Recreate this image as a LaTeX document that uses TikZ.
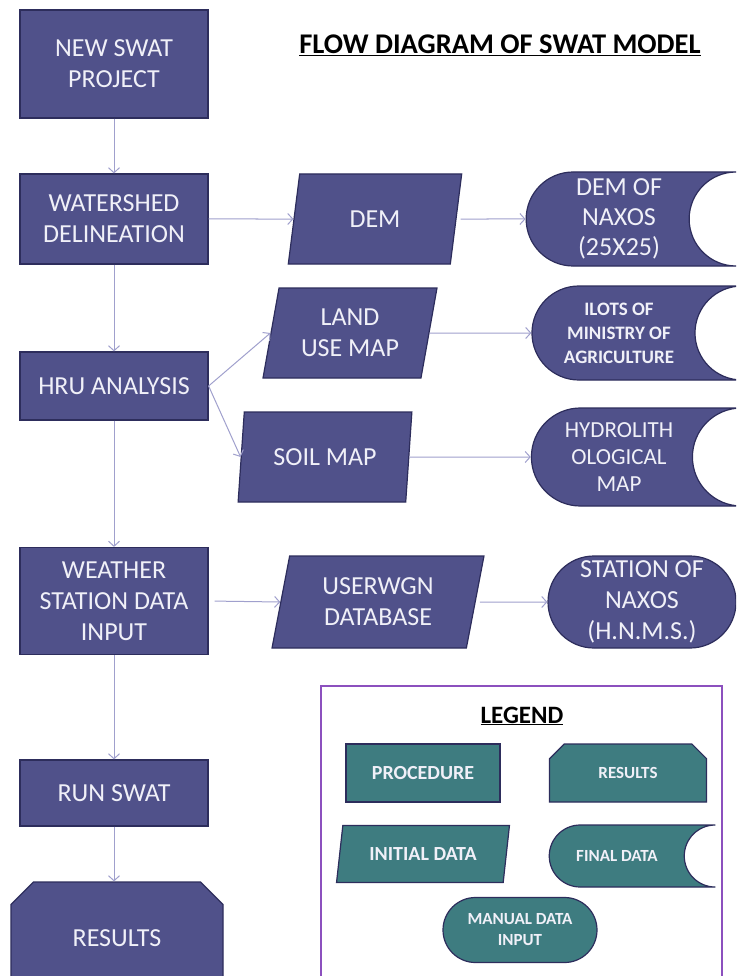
\documentclass[tikz,border=0pt]{standalone}
\usepackage{fontspec}
\setmainfont{Carlito}
\usetikzlibrary{shapes.geometric,shapes.misc,arrows.meta}
\definecolor{navyfill}{RGB}{80,81,138}
\definecolor{navyline}{RGB}{45,45,92}
\definecolor{tealfill}{RGB}{62,124,128}
\definecolor{arrowc}{RGB}{160,160,205}
\definecolor{legendc}{RGB}{140,80,190}
\definecolor{textc}{RGB}{240,240,248}
\tikzset{procbox/.style={
            draw=navyline,
            fill=navyfill,
            line width=1.2pt,
            text=textc,
            align=center,
            inner sep=0pt,
            minimum width=188,
            font=\fontsize{26}{31}\selectfont
        },
        databox/.style={
            procbox,
            trapezium,
            trapezium left angle=77,
            trapezium right angle=103,
            trapezium stretches=true,
            minimum width=174,
            minimum height=90
        },
        finalbox/.style={
            procbox,
            rounded rectangle,
            rounded rectangle right arc=concave,
            minimum width=210,
            minimum height=94
        },
        inputbox/.style={
            procbox,
            rounded rectangle,
            minimum width=188,
            minimum height=92
        },
        resultbox/.style={
            procbox,
            chamfered rectangle,
            chamfered rectangle corners={north west,north east},
            chamfered rectangle xsep=14,
            chamfered rectangle ysep=14
        },
        legendbox/.style={
            fill=tealfill,
            font=\bfseries\fontsize{20}{22}\selectfont
        },
        flow/.style={
            -{Straight Barb[length=5pt,width=11pt]},
            draw=arrowc,
            line width=1pt
        }
    }
\begin{document}
\begin{tikzpicture}[x=1pt,y=-1pt]
        \clip (0,0) rectangle (736,976);
        \fill[white] (0,0) rectangle (736,976);

        % main column
        \node[procbox,minimum height=108] at (114,64) (newproj) {NEW SWAT\\PROJECT};
        \node[procbox,minimum height=90] at (114,219) (watershed) {WATERSHED\\DELINEATION};
        \node[procbox,minimum height=68] at (114,386) (hru) {HRU ANALYSIS};
        \node[procbox,minimum height=107] at (114,601) (weather) {WEATHER\\STATION DATA\\INPUT};
        \node[procbox,minimum height=66] at (114,793) (runswat) {RUN SWAT};
        \node[resultbox,minimum width=212,minimum height=112] at (117,938) (results) {RESULTS};

        \node[font=\bfseries\fontsize{28.5}{32}\selectfont] at (500,45) (title) {\underline{FLOW DIAGRAM OF SWAT MODEL}};

        % initial data
        \node[databox] at (375,219) (dem) {DEM};
        \node[databox] at (350,333) (landuse) {LAND\\USE MAP};
        \node[databox] at (325,457) (soil) {SOIL MAP};
        \node[databox,minimum width=212,minimum height=92] at (378,602) (userwgn) {USERWGN\\DATABASE};

        % final data
        \node[finalbox,font=\fontsize{26}{30}\selectfont] at (619,219) (demnaxos) {DEM OF\\NAXOS\\(25X25)};
        \node[finalbox,font=\bfseries\fontsize{19}{24}\selectfont] at (619,333) (ilots) {ILOTS OF\\MINISTRY OF\\AGRICULTURE};
        \node[finalbox,minimum height=98,font=\fontsize{23}{27}\selectfont] at (619,457) (hydro) {HYDROLITH\\OLOGICAL\\MAP};
        \node[inputbox] at (642,602) (station) {STATION OF\\NAXOS\\(H.N.M.S.)};

        \draw[flow] (newproj) -- (watershed);
        \draw[flow] (watershed) -- (hru);
        \draw[flow] (hru) -- (weather);
        \draw[flow] (weather) -- (runswat);
        \draw[flow] (runswat) -- (runswat |- results.north);

        \draw[flow] (watershed.east) -- (dem.west);
        \draw[flow] (hru.east) -- (landuse.west);
        \draw[flow] (hru.east) -- (soil.west);
        \draw[flow,shorten <=6pt] (weather.east) -- (userwgn.west);

        \draw[flow,shorten <=4pt] (dem.east) -- (demnaxos.west);
        \draw[flow] (landuse.east) -- (ilots.west);
        \draw[flow] (soil.east) -- (hydro.west);
        \draw[flow,shorten <=4pt] (userwgn.east) -- (station.west);

        % legend
        \draw[legendc,line width=2pt] (321,686) rectangle (722,990);
        \node[font=\bfseries\fontsize{25}{28}\selectfont] at (522,716) (legend) {\underline{LEGEND}};
        \node[procbox,legendbox,minimum width=154,minimum height=58] at (423,773) (lgproc) {PROCEDURE};
        \node[resultbox,legendbox,minimum width=157,minimum height=58,chamfered rectangle xsep=9,chamfered rectangle ysep=9,font=\bfseries\fontsize{17}{20}\selectfont] at (628,773) (lgres) {RESULTS};
        \node[databox,legendbox,trapezium left angle=72,trapezium right angle=108,minimum width=173,minimum height=57] at (423,854) (lginit) {INITIAL DATA};
        \node[finalbox,legendbox,minimum width=166,minimum height=62,font=\bfseries\fontsize{17}{20}\selectfont] at (617,856) (lgfinal) {FINAL DATA};
        \node[inputbox,legendbox,minimum width=154,minimum height=65,font=\bfseries\fontsize{17}{21}\selectfont] at (520,930) (lginput) {MANUAL DATA\\INPUT};

    \end{tikzpicture}
\end{document}
